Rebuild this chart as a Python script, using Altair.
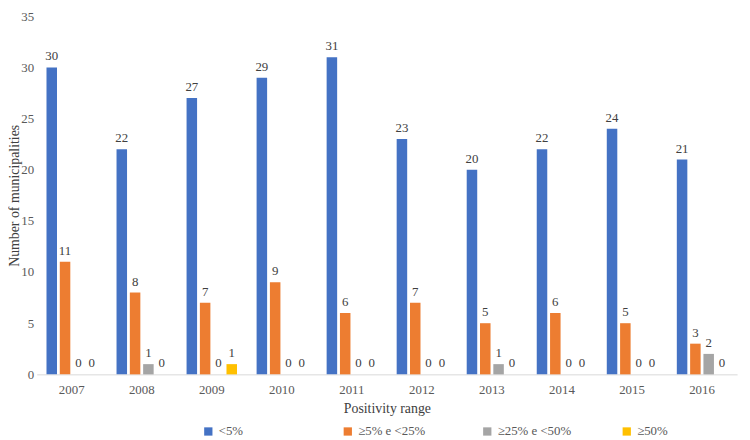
import altair as alt
import pandas as pd

years = ["2007", "2008", "2009", "2010", "2011", "2012", "2013", "2014", "2015", "2016"]
series = ["<5%", "≥5% e <25%", "≥25% e <50%", "≥50%"]
colors = ["#4472C4", "#ED7D31", "#A5A5A5", "#FFC000"]
v_lt5 = [30, 22, 27, 29, 31, 23, 20, 22, 24, 21]
v_5_25 = [11, 8, 7, 9, 6, 7, 5, 6, 5, 3]
v_25_50 = [0, 1, 0, 0, 0, 0, 1, 0, 0, 2]
v_ge50 = [0, 0, 1, 0, 0, 0, 0, 0, 0, 0]

rows = []
for s, vals in zip(series, [v_lt5, v_5_25, v_25_50, v_ge50]):
    for y, v in zip(years, vals):
        rows.append({"year": y, "series": s, "value": v})
df = pd.DataFrame(rows)

FONT = "'Liberation Serif', 'Times New Roman', 'DejaVu Serif', serif"

x = alt.X("year:N", sort=years, title="Positivity range",
          scale=alt.Scale(paddingInner=0.28, paddingOuter=0.14),
          axis=alt.Axis(labelAngle=0, ticks=False, domainColor="#D9D9D9", domainWidth=1,
                        labelPadding=9, titlePadding=6, labelFontSize=13, titleFontSize=14,
                        labelColor="#595959", titleColor="#404040", labelFont=FONT, titleFont=FONT,
                        titleFontWeight="normal"))
xo = alt.XOffset("series:N", sort=series, scale=alt.Scale(paddingInner=0.21))

base = alt.Chart(df)
bars = base.mark_bar().encode(
    x=x, xOffset=xo,
    y=alt.Y("value:Q", title="Number of municipalities",
            scale=alt.Scale(domain=[0, 35], nice=False),
            axis=alt.Axis(values=[0, 5, 10, 15, 20, 25, 30, 35], grid=False, domain=False, ticks=False,
                          labelPadding=3, labelFontSize=13, titleFontSize=14, labelColor="#595959",
                          titleColor="#404040", labelFont=FONT, titleFont=FONT, titleFontWeight="normal",
                          titleX=-22, titleBaseline="middle")),
    color=alt.Color("series:N", sort=series, scale=alt.Scale(domain=series, range=colors),
                    legend=alt.Legend(title=None, orient="none", direction="horizontal", columns=4,
                                      legendX=167, legendY=413, gridAlign="all", columnPadding=49,
                                      symbolType="square", symbolSize=70, symbolStrokeWidth=0,
                                      labelFont=FONT, labelFontSize=13, labelColor="#595959")),
)
labels = base.mark_text(dy=-11, font=FONT, fontSize=13, color="#404040").encode(
    x=x, xOffset=xo, y="value:Q", text="value:Q")

chart = (bars + labels).properties(
    width=708, height=362,
    autosize=alt.AutoSizeParams(type="none"),
    padding={"left": 29, "top": 6, "right": 5, "bottom": 64},
).configure_view(stroke=None)

chart.save("out.html", embed_options={"renderer": "svg", "actions": False})
